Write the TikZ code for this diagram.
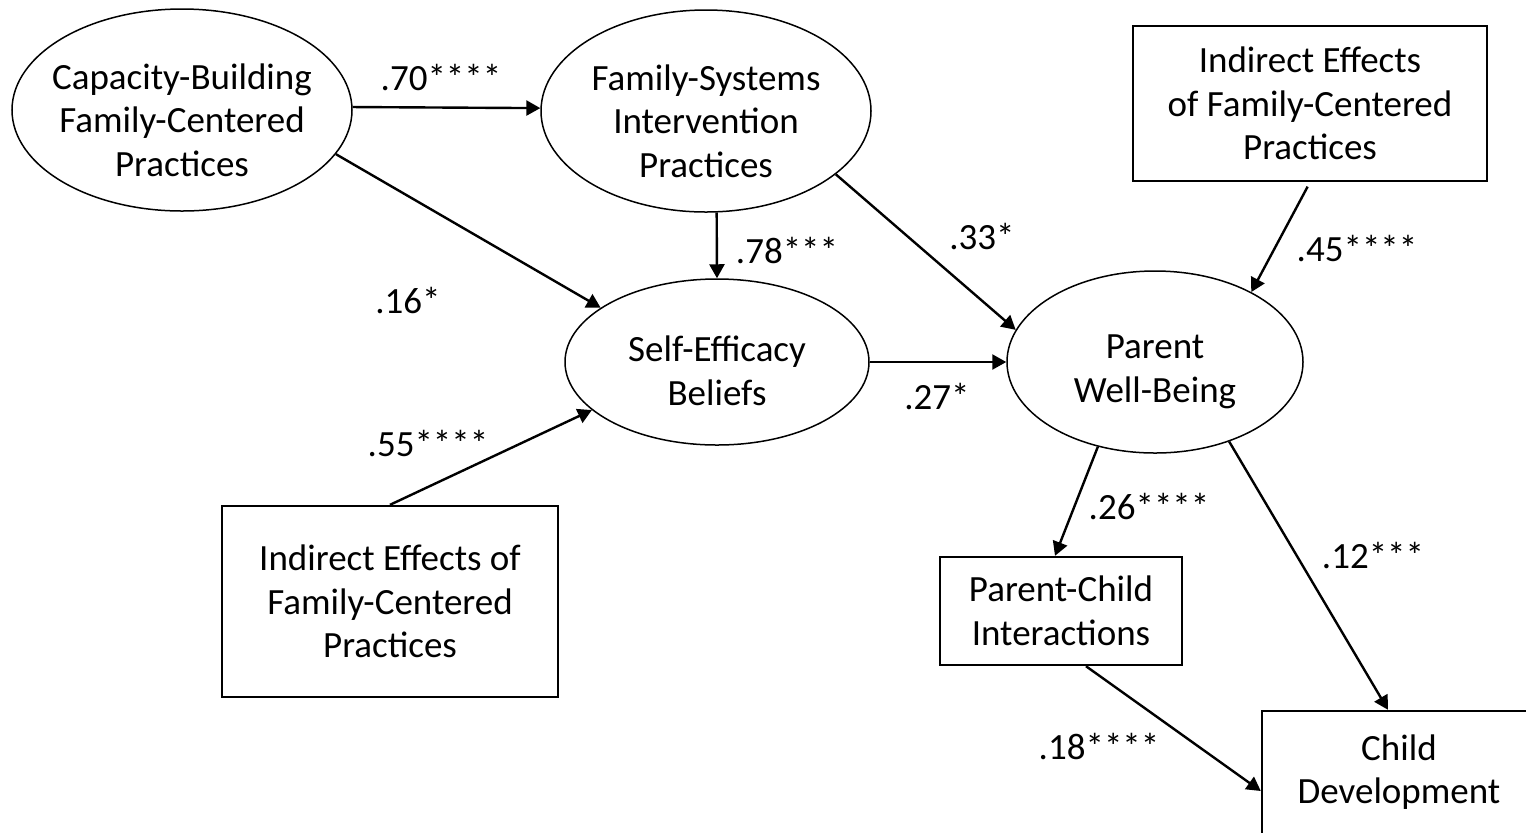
\documentclass[tikz,border=0pt]{standalone}
\usepackage{fontspec}
\setmainfont{Carlito}
\usetikzlibrary{shapes.geometric,arrows.meta}
\begin{document}
\begin{tikzpicture}[x=0.5pt,y=-0.5pt,
  every node/.style={font=\fontsize{18.5pt}{21.75pt}\selectfont, align=center},
  ell/.style={draw, ellipse, line width=0.75pt, inner sep=0pt},
  txt/.style={inner sep=0pt},
  box/.style={draw, rectangle, line width=1.2pt, inner sep=0pt},
  lbl/.style={inner sep=0pt},
  arr/.style={-{Triangle[length=7pt,width=7.5pt]}, line width=1.2pt}]
\clip (0,0) rectangle (1526,832);
\useasboundingbox (0,0) rectangle (1526,832);
% ellipses and their texts
\node[ell, minimum width=170pt, minimum height=101pt] (A) at (182,110) {};
\node[txt] (At) at (182,120) {Capacity-Building\\Family-Centered\\Practices};
\node[ell, minimum width=165pt, minimum height=101pt] (B) at (706,111) {};
\node[txt] (Bt) at (706,121) {Family-Systems\\Intervention\\Practices};
\node[ell, minimum width=152pt, minimum height=83pt] (C) at (717,362) {};
\node[txt] (Ct) at (717,371) {Self-Efficacy\\Beliefs};
\node[ell, minimum width=148pt, minimum height=91pt] (D) at (1155,362) {};
\node[txt] (Dt) at (1155,372) {Parent\\Well-Being};
% boxes
\node[box, minimum width=177pt, minimum height=77.5pt] (E) at (1310,103.5) {Indirect Effects\\of Family-Centered\\Practices};
\node[box, minimum width=168pt, minimum height=95.5pt] (F) at (390,601.5) {Indirect Effects of\\Family-Centered\\Practices};
\node[box, minimum width=121pt, minimum height=54pt] (G) at (1061,611) {Parent-Child\\Interactions};
\node[box, minimum width=137pt, minimum height=80pt] (H) at (1399,791) {Child\\Development\\\mbox{}};
% connectors
\draw[arr] (A.1) -- (B.179);
\draw[arr] (A.-16) -- (C.155);
\draw[arr] (B.-84) -- (C.90);
\draw[arr] (B.-26) -- (D.167);
\draw[arr] (C.0) -- (D.180);
\draw[arr] (F.north) -- (C.201);
\draw[arr, shorten <=2.5pt] (E.south) -- (D.36);
\draw[arr] (D.236) -- ([xshift=-3pt]G.north);
\draw[arr] (D.-47) -- ([xshift=-5.5pt]H.north);
\draw[arr] ([xshift=12.5pt]G.south) -- (H.west);
% labels
\node[lbl] (l70) at (441,78) {.70****};
\node[lbl] (l16) at (408,300) {.16*};
\node[lbl] (l78) at (787,250) {.78***};
\node[lbl] (l33) at (982,236) {.33*};
\node[lbl] (l27) at (937,396) {.27*};
\node[lbl] (l55) at (428,443) {.55****};
\node[lbl] (l45) at (1357,248) {.45****};
\node[lbl] (l26) at (1149,506) {.26****};
\node[lbl] (l12) at (1373,555) {.12***};
\node[lbl] (l18) at (1099,746) {.18****};
\end{tikzpicture}
\end{document}
